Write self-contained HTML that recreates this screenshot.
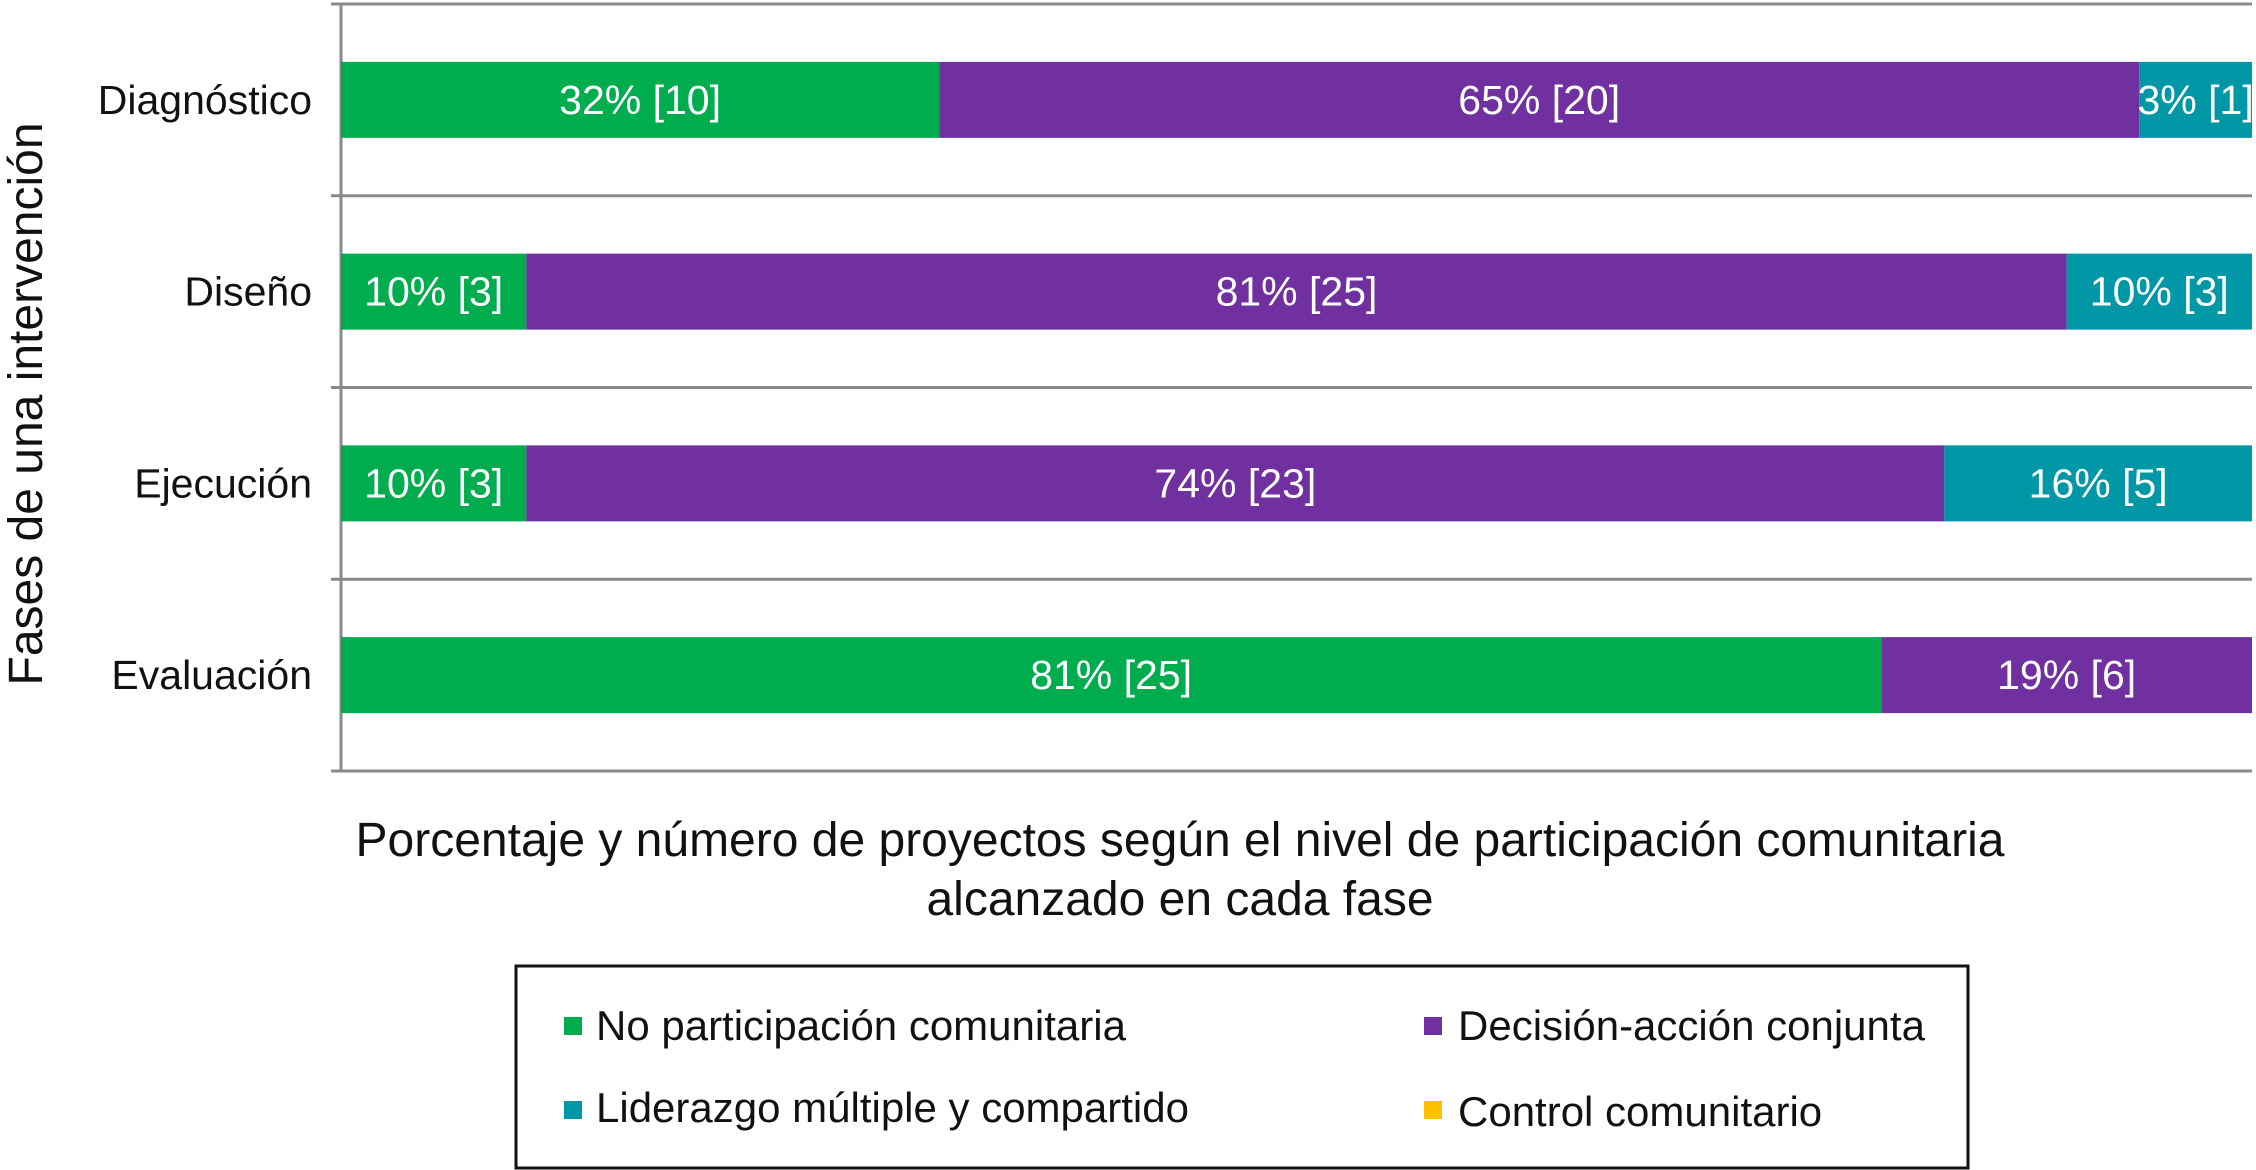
<!DOCTYPE html>
<html><head><meta charset="utf-8"><style>
html,body{margin:0;padding:0;background:#fff;}
svg{display:block;font-family:"Liberation Sans",sans-serif;}
</style></head><body>
<svg id="chart" width="2256" height="1170" viewBox="0 0 2256 1170">
<g id="grid"></g>
<line x1="341" y1="4" x2="341" y2="771" stroke="#8a8a8a" stroke-width="3"/>
<g id="bars"></g>
<g id="cats"></g>
<text x="0" y="0" transform="translate(42,404) rotate(-90)" text-anchor="middle" font-size="48" fill="#111">Fases de una intervención</text>
<text x="1180" y="856" text-anchor="middle" font-size="48" fill="#111">Porcentaje y número de proyectos según el nivel de participación comunitaria</text>
<text x="1180" y="915" text-anchor="middle" font-size="48" fill="#111">alcanzado en cada fase</text>
<g font-size="42" fill="#111">
<rect x="516" y="966" width="1452" height="202" fill="none" stroke="#111" stroke-width="3"/>
<g><rect x="564" y="1017" width="18" height="18" fill="#00AD4E"/><text x="596" y="1040">No participación comunitaria</text></g>
<g><rect x="1424" y="1017" width="18" height="18" fill="#7030A0"/><text x="1458" y="1040">Decisión-acción conjunta</text></g>
<g><rect x="564" y="1101" width="18" height="18" fill="#0097A7"/><text x="596" y="1122">Liderazgo múltiple y compartido</text></g>
<g><rect x="1424" y="1101" width="18" height="18" fill="#FFC000"/><text x="1458" y="1126">Control comunitario</text></g>
</g>
</svg>
<script>
const categories = ["Diagnóstico", "Diseño", "Ejecución", "Evaluación"];
const noParticipacion = [31.3, 9.7, 9.7, 80.6];
const decisionAccion = [62.8, 80.6, 74.2, 19.4];
const liderazgo = [5.9, 9.7, 16.1, 0];
const control = [0, 0, 0, 0];
const countNo = [10, 3, 3, 25];
const countDec = [20, 25, 23, 6];
const countLid = [1, 3, 5, 0];
const countCtl = [0, 0, 0, 0];
const pctNo = ["32%", "10%", "10%", "81%"];
const pctDec = ["65%", "81%", "74%", "19%"];
const pctLid = ["3%", "10%", "16%", "0%"];
const pctCtl = ["0%", "0%", "0%", "0%"];

const NS = "http://www.w3.org/2000/svg";
const x0 = 341, x1 = 2252, top0 = 4, bandH = 191.75;
function xScale(frac){ return x0 + frac * (x1 - x0); }
function bandY(i){ return top0 + i * bandH; }
const series = [
  {vals: noParticipacion, cnt: countNo, pct: pctNo, color: "#00AD4E", name: "no-participacion"},
  {vals: decisionAccion, cnt: countDec, pct: pctDec, color: "#7030A0", name: "decision-accion"},
  {vals: liderazgo, cnt: countLid, pct: pctLid, color: "#0097A7", name: "liderazgo"},
  {vals: control, cnt: countCtl, pct: pctCtl, color: "#FFC000", name: "control"}
];
const grid = document.getElementById("grid");
for (let i = 0; i <= categories.length; i++) {
  const l = document.createElementNS(NS, "line");
  l.setAttribute("x1", 331); l.setAttribute("x2", 2252);
  l.setAttribute("y1", bandY(i)); l.setAttribute("y2", bandY(i));
  l.setAttribute("stroke", "#8a8a8a"); l.setAttribute("stroke-width", 3);
  
  
  grid.appendChild(l);
}
const bars = document.getElementById("bars");
const cats = document.getElementById("cats");
categories.forEach((c, i) => {
  const total = series.reduce((s, sr) => s + sr.vals[i], 0);
  const yc = bandY(i) + bandH / 2;
  const bh = 76;
  let cum = 0;
  series.forEach(sr => {
    const v = sr.vals[i];
    if (v <= 0) return;
    const xa = xScale(cum / total), xb = xScale((cum + v) / total);
    cum += v;
    const r = document.createElementNS(NS, "rect");
    r.setAttribute("x", xa); r.setAttribute("y", yc - bh / 2);
    r.setAttribute("width", xb - xa); r.setAttribute("height", bh);
    r.setAttribute("fill", sr.color);
    
    
    bars.appendChild(r);
    const t = document.createElementNS(NS, "text");
    t.setAttribute("x", (xa + xb) / 2); t.setAttribute("y", yc + 14);
    t.setAttribute("text-anchor", "middle"); t.setAttribute("fill", "#fff");
    t.setAttribute("font-size", "41");
    t.textContent = sr.pct[i] + " [" + sr.cnt[i] + "]";
    
    
    bars.appendChild(t);
  });
  const ct = document.createElementNS(NS, "text");
  ct.setAttribute("x", 312); ct.setAttribute("y", yc + 14);
  ct.setAttribute("text-anchor", "end"); ct.setAttribute("fill", "#111");
  ct.setAttribute("font-size", "41");
  ct.textContent = c;
  
  
  cats.appendChild(ct);
});
</script>
</body></html>
